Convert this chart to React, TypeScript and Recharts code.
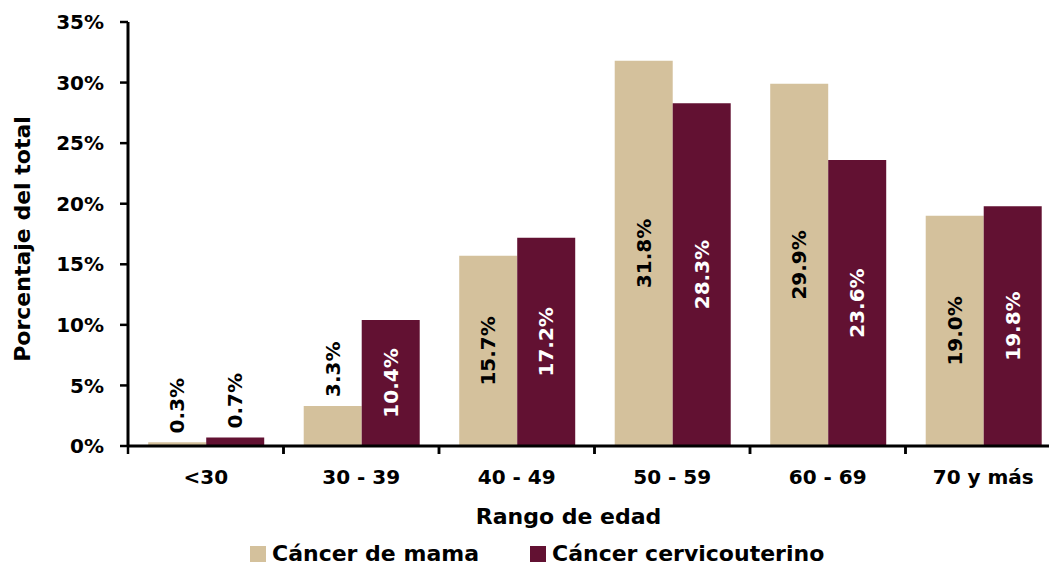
import React from 'react';
import { BarChart, Bar, XAxis, YAxis, Legend, LabelList, Label } from 'recharts';

const categories = ['<30', '30 - 39', '40 - 49', '50 - 59', '60 - 69', '70 y más'];
const mamaValues = [0.3, 3.3, 15.7, 31.8, 29.9, 19.0];
const cervicoValues = [0.7, 10.4, 17.2, 28.3, 23.6, 19.8];
const yTicks = [0, 5, 10, 15, 20, 25, 30, 35];

const data = categories.map((c, i) => ({ cat: c, mama: mamaValues[i], cervico: cervicoValues[i] }));

const FONT = '"DejaVu Sans", sans-serif';
const MAMA = '#D4C19C';
const CERV = '#621132';

const makeLabel = (insideColor: string) => (props: any) => {
  const { x, y, width, height, value } = props;
  const cx = Number(x) + Number(width) / 2;
  if (value < 5) {
    const by = Number(y) - 9;
    return (
      <text x={cx} y={by} transform={`rotate(-90, ${cx}, ${by})`} textAnchor="start" dominantBaseline="central"
        fill="#000" fontFamily={FONT} fontWeight="bold" fontSize={20}>
        {`${value.toFixed(1)}%`}
      </text>
    );
  }
  const cy = Number(y) + Number(height) / 2;
  return (
    <text x={cx} y={cy} transform={`rotate(-90, ${cx}, ${cy})`} textAnchor="middle" dominantBaseline="central"
      fill={insideColor} fontFamily={FONT} fontWeight="bold" fontSize={20}>
      {`${value.toFixed(1)}%`}
    </text>
  );
};

const XTick = (props: any) => {
  const { x, y, payload } = props;
  const off = payload && payload.offset ? payload.offset : 0;
  const axisY = y - 8;
  return (
    <g>
      <line x1={x - off} y1={axisY} x2={x - off} y2={axisY + 8} stroke="#000" strokeWidth={2.5} />
      <line x1={x + off} y1={axisY} x2={x + off} y2={axisY + 8} stroke="#000" strokeWidth={2.5} />
      <text x={x} y={y + 30} textAnchor="middle" fill="#000" fontFamily={FONT} fontWeight="bold" fontSize={20}>
        {payload.value}
      </text>
    </g>
  );
};

const LegendContent = () => (
  <div style={{ display: 'flex', justifyContent: 'flex-start', alignItems: 'center', paddingLeft: 250, paddingTop: 22, lineHeight: '22px', fontFamily: FONT, fontWeight: 'bold', fontSize: 22, color: '#000' }}>
    <span style={{ display: 'inline-block', width: 16, height: 16, background: MAMA, marginRight: 6 }} />
    <span style={{ marginRight: 51 }}>Cáncer de mama</span>
    <span style={{ display: 'inline-block', width: 16, height: 16, background: CERV, marginRight: 6 }} />
    <span>Cáncer cervicouterino</span>
  </div>
);

export default function App() {
  return (
    <div style={{ position: 'absolute', left: 0, top: 0, width: 1049, height: 565, overflow: 'hidden', background: '#fff' }}>
      <BarChart width={1075} height={565} data={data} margin={{ top: 22, right: 14, bottom: 0, left: 0 }}
        barCategoryGap="13%" barGap={0}>
        <XAxis dataKey="cat" height={75} tick={<XTick />} tickLine={false} tickSize={8} tickMargin={0}
          axisLine={{ stroke: '#000', strokeWidth: 3 }} interval={0}>
          <Label content={(p: any) => {
            const vb = p.viewBox || { x: 128, y: 446, width: 933, height: 75 };
            const lx = vb.x + vb.width / 2 - 26;
            const ly = vb.y + 78;
            return (
              <text x={lx} y={ly} textAnchor="middle" fill="#000" fontFamily={FONT} fontWeight="bold" fontSize={22}>Rango de edad</text>
            );
          }} />
        </XAxis>
        <YAxis width={128} domain={[0, 35]} ticks={yTicks} tickFormatter={(v: number) => `${v}%`}
          tickSize={8} tickMargin={16} interval={0}
          tick={{ fill: '#000', fontFamily: FONT, fontWeight: 'bold', fontSize: 20 }}
          tickLine={{ stroke: '#000', strokeWidth: 2.5 }} axisLine={{ stroke: '#000', strokeWidth: 3 }}>
          <Label content={(p: any) => {
            const vb = p.viewBox || { x: 0, y: 22, height: 424 };
            const lx = 22;
            const ly = vb.y + vb.height / 2 + 5;
            return (
              <text x={lx} y={ly} transform={`rotate(-90, ${lx}, ${ly})`} textAnchor="middle" dominantBaseline="central"
                fill="#000" fontFamily={FONT} fontWeight="bold" fontSize={22}>Porcentaje del total</text>
            );
          }} />
        </YAxis>
        <Legend verticalAlign="bottom" height={44} content={<LegendContent />} />
        <Bar dataKey="mama" name="Cáncer de mama" fill={MAMA} isAnimationActive={false}>
          <LabelList dataKey="mama" content={makeLabel('#000')} />
        </Bar>
        <Bar dataKey="cervico" name="Cáncer cervicouterino" fill={CERV} isAnimationActive={false}>
          <LabelList dataKey="cervico" content={makeLabel('#fff')} />
        </Bar>
      </BarChart>
    </div>
  );
}
